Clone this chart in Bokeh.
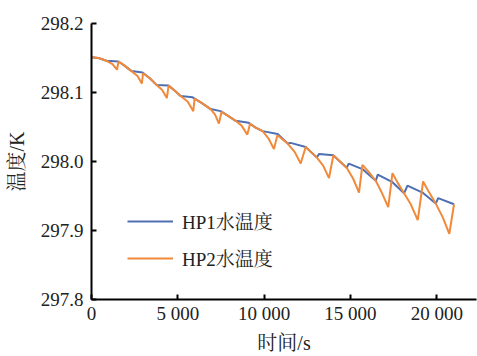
from bokeh.plotting import figure
from bokeh.models import Legend, LegendItem, FixedTicker, Range1d
from bokeh.embed import file_html
from bokeh.resources import INLINE

# HP1 water temperature (time in s, temperature in K)
hp1_t = [0, 406, 869, 1565, 1913, 2319, 2956, 3362, 3768, 4464, 4812, 5159, 5855,
         6377, 6898, 7478, 7913, 8348, 9101, 9507, 9913, 10782, 11362, 11536,
         12406, 13043, 13188, 13999, 14782, 14898, 15692, 16464, 16580, 17432,
         18105, 18302, 19171, 19942, 20076, 21000]
hp1_T = [298.151, 298.150, 298.146, 298.145, 298.139, 298.131, 298.129, 298.121,
         298.111, 298.110, 298.103, 298.095, 298.093, 298.085, 298.076, 298.073,
         298.066, 298.059, 298.056, 298.049, 298.044, 298.040, 298.026, 298.027,
         298.021, 298.006, 298.011, 298.009, 297.991, 297.997, 297.989, 297.972,
         297.981, 297.970, 297.954, 297.965, 297.955, 297.939, 297.947, 297.938]

# HP2 water temperature
hp2_t = [0, 406, 869, 1217, 1478, 1565, 1913, 2319, 2667, 2916, 2985, 3362, 3768,
         4087, 4365, 4464, 4812, 5159, 5565, 5896, 5971, 6377, 6898, 7159, 7380,
         7536, 7913, 8348, 8696, 9026, 9188, 9507, 9913, 10261, 10569, 10765,
         11362, 11768, 12116, 12406, 13043, 13420, 13756, 14012, 14782, 15159,
         15495, 15692, 16057, 16464, 16812, 17188, 17432, 17739, 18105, 18493,
         18898, 19206, 19536, 19942, 20348, 20724, 21000]
hp2_T = [298.151, 298.150, 298.146, 298.141, 298.133, 298.145, 298.139, 298.131,
         298.124, 298.113, 298.128, 298.121, 298.111, 298.104, 298.092, 298.110,
         298.103, 298.095, 298.087, 298.073, 298.091, 298.085, 298.076, 298.068,
         298.055, 298.072, 298.066, 298.059, 298.052, 298.039, 298.055, 298.049,
         298.044, 298.033, 298.018, 298.038, 298.026, 298.014, 297.997, 298.021,
         298.006, 297.994, 297.976, 298.009, 297.991, 297.975, 297.955, 297.995,
         297.985, 297.972, 297.955, 297.934, 297.983, 297.969, 297.954, 297.938,
         297.915, 297.971, 297.956, 297.939, 297.919, 297.895, 297.938]

x_ticks = [0, 5000, 10000, 15000, 20000]
x_tick_labels = ["0", "5 000", "10 000", "15 000", "20 000"]
y_ticks = [297.8, 297.9, 298.0, 298.1, 298.2]
y_tick_labels = ["297.8", "297.9", "298.0", "298.1", "298.2"]

series_labels = ["HP1水温度", "HP2水温度"]
x_title = "时间/s"
y_title = "温度/K"

FONT = "'Liberation Serif', 'Noto Serif CJK SC', 'Noto Sans CJK SC', serif"
TXT = "#222222"

p = figure(width=477, height=356, output_backend="svg", toolbar_location=None,
           x_range=Range1d(0, 22300), y_range=Range1d(297.8, 298.2),
           min_border_left=91, min_border_right=1, min_border_top=23,
           min_border_bottom=57)
p.outline_line_color = None
p.grid.visible = False
p.background_fill_color = "white"
p.border_fill_color = "white"

r1 = p.line(hp1_t, hp1_T, line_color="#4E70B2", line_width=2)
r2 = p.line(hp2_t, hp2_T, line_color="#F08A3A", line_width=2)

for ax in (p.xaxis[0], p.yaxis[0]):
    ax.axis_line_color = "black"
    ax.axis_line_width = 2
    ax.major_tick_line_color = "black"
    ax.major_tick_line_width = 2
    ax.major_tick_in = 5
    ax.major_tick_out = 0
    ax.minor_tick_line_color = None
    ax.major_label_text_font = FONT
    ax.major_label_text_font_size = "19px"
    ax.major_label_text_color = TXT
    ax.axis_label_text_font = FONT
    ax.axis_label_text_font_size = "20px"
    ax.axis_label_text_font_style = "normal"
    ax.axis_label_text_color = TXT

p.xaxis.ticker = FixedTicker(ticks=x_ticks)
p.xaxis.major_label_overrides = dict(zip(x_ticks, x_tick_labels))
p.xaxis.axis_label = x_title
p.xaxis.major_label_standoff = 3
p.xaxis.axis_label_standoff = 5

p.yaxis.ticker = FixedTicker(ticks=y_ticks)
p.yaxis.major_label_overrides = dict(zip(y_ticks, y_tick_labels))
p.yaxis.axis_label = y_title
p.yaxis.major_label_standoff = 8
p.yaxis.axis_label_standoff = 10

legend = Legend(items=[LegendItem(label=series_labels[0], renderers=[r1]),
                       LegendItem(label=series_labels[1], renderers=[r2])],
                location=(36, 28), border_line_color=None,
                background_fill_alpha=0, padding=0, margin=0, spacing=10,
                glyph_width=46, glyph_height=20, label_standoff=9,
                label_text_font=FONT, label_text_font_size="19px",
                label_text_color=TXT)
p.add_layout(legend)

open("out.html", "w").write(file_html(p, INLINE))
